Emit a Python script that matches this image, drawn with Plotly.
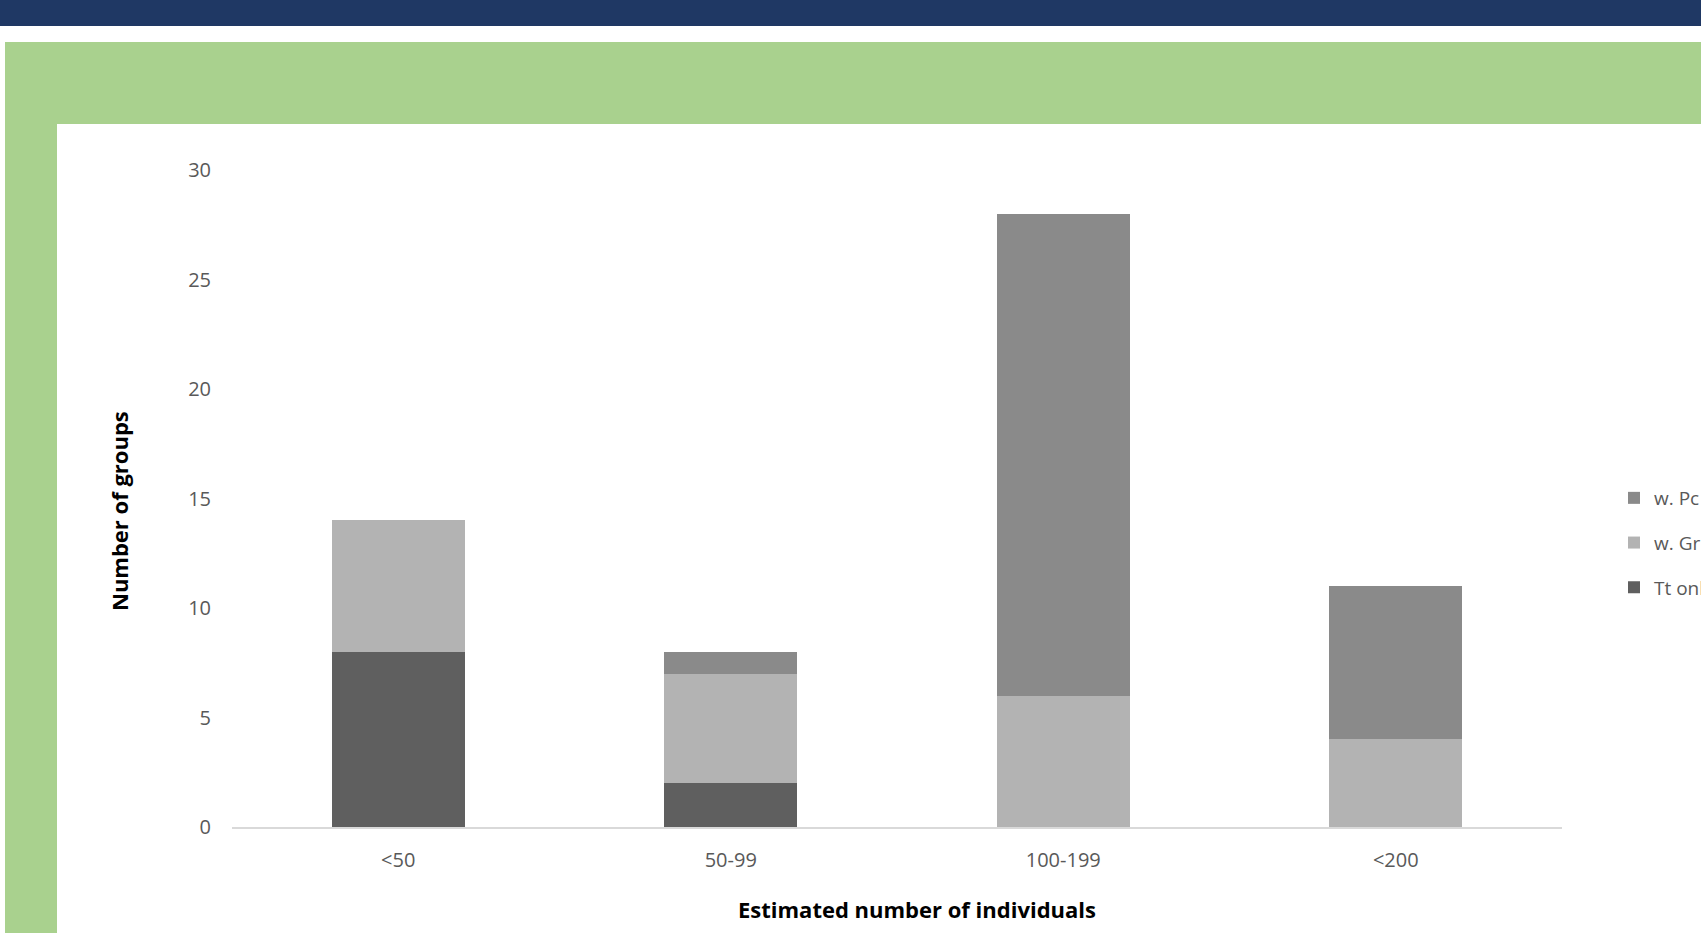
import plotly.graph_objects as go

# Group-size categories and counts per group composition
categories = ["<50", "50-99", "100-199", "<200"]
tt_only = [8, 2, 0, 0]
with_gr = [6, 5, 6, 4]
with_po = [0, 1, 22, 7]

series_names = ["Tt only", "w. Gr", "w. Pc"]
series_colors = ["#5F5F5F", "#B3B3B3", "#8A8A8A"]
legend_ranks = [3, 2, 1]  # top of legend follows top of stack

W, H = 1701, 933
L, R, T, B = 232, 139, 170, 106  # plot-area margins in px

def px_x(px):
    return (px - L) / (W - L - R)

def px_y(py):
    return (H - B - py) / (H - T - B)

fig = go.Figure()
for name, vals, col, rank in zip(series_names, [tt_only, with_gr, with_po], series_colors, legend_ranks):
    fig.add_trace(go.Bar(
        x=categories, y=vals, name=name, marker_color=col,
        marker_line_width=0, legendgroup=name, legendrank=rank,
    ))

shapes = [
    # navy header band
    dict(type="rect", xref="paper", yref="paper", x0=px_x(0), x1=px_x(W), y0=px_y(26), y1=px_y(0),
         fillcolor="#1F3864", line_width=0, layer="below"),
    # green frame
    dict(type="rect", xref="paper", yref="paper", x0=px_x(5), x1=px_x(W), y0=px_y(H), y1=px_y(42),
         fillcolor="#A9D18E", line_width=0, layer="below"),
    # white chart panel
    dict(type="rect", xref="paper", yref="paper", x0=px_x(57), x1=px_x(W), y0=px_y(H), y1=px_y(124),
         fillcolor="#FFFFFF", line_width=0, layer="below"),
]

annotations = [
    dict(text="<b>Estimated number of individuals</b>", xref="paper", yref="paper",
         x=px_x(917), y=px_y(909), xanchor="center", yanchor="middle", showarrow=False,
         font=dict(family="Open Sans", size=22, color="#000000")),
    dict(text="<b>Number of groups</b>", xref="paper", yref="paper", textangle=-90,
         x=px_x(119), y=px_y(511), xanchor="center", yanchor="middle", showarrow=False,
         font=dict(family="Open Sans", size=22, color="#000000")),
]

fig.update_layout(
    width=W, height=H,
    margin=dict(l=L, r=R, t=T, b=B, autoexpand=False),
    paper_bgcolor="#FFFFFF", plot_bgcolor="rgba(0,0,0,0)",
    barmode="stack", bargap=0.6,
    font=dict(family="Open Sans", color="#595959"),
    shapes=shapes, annotations=annotations,
    legend=dict(
        xref="container", yref="container", x=1614 / W, y=1 - 543 / H,
        xanchor="left", yanchor="middle", traceorder="grouped",
        tracegroupgap=17, font=dict(family="Open Sans", size=19, color="#595959"),
        bgcolor="rgba(0,0,0,0)",
    ),
    showlegend=True,
)
fig.update_xaxes(
    showline=True, linecolor="#D9D9D9", linewidth=2, showgrid=False, zeroline=False,
    ticks="", tickfont=dict(size=20, color="#595959"), ticklabelstandoff=14,
)
fig.update_yaxes(
    range=[0, 30], dtick=5, showgrid=False, zeroline=False, showline=False,
    ticks="", tickfont=dict(size=20, color="#595959"), ticklabelstandoff=20,
)

fig.write_html("out.html")
